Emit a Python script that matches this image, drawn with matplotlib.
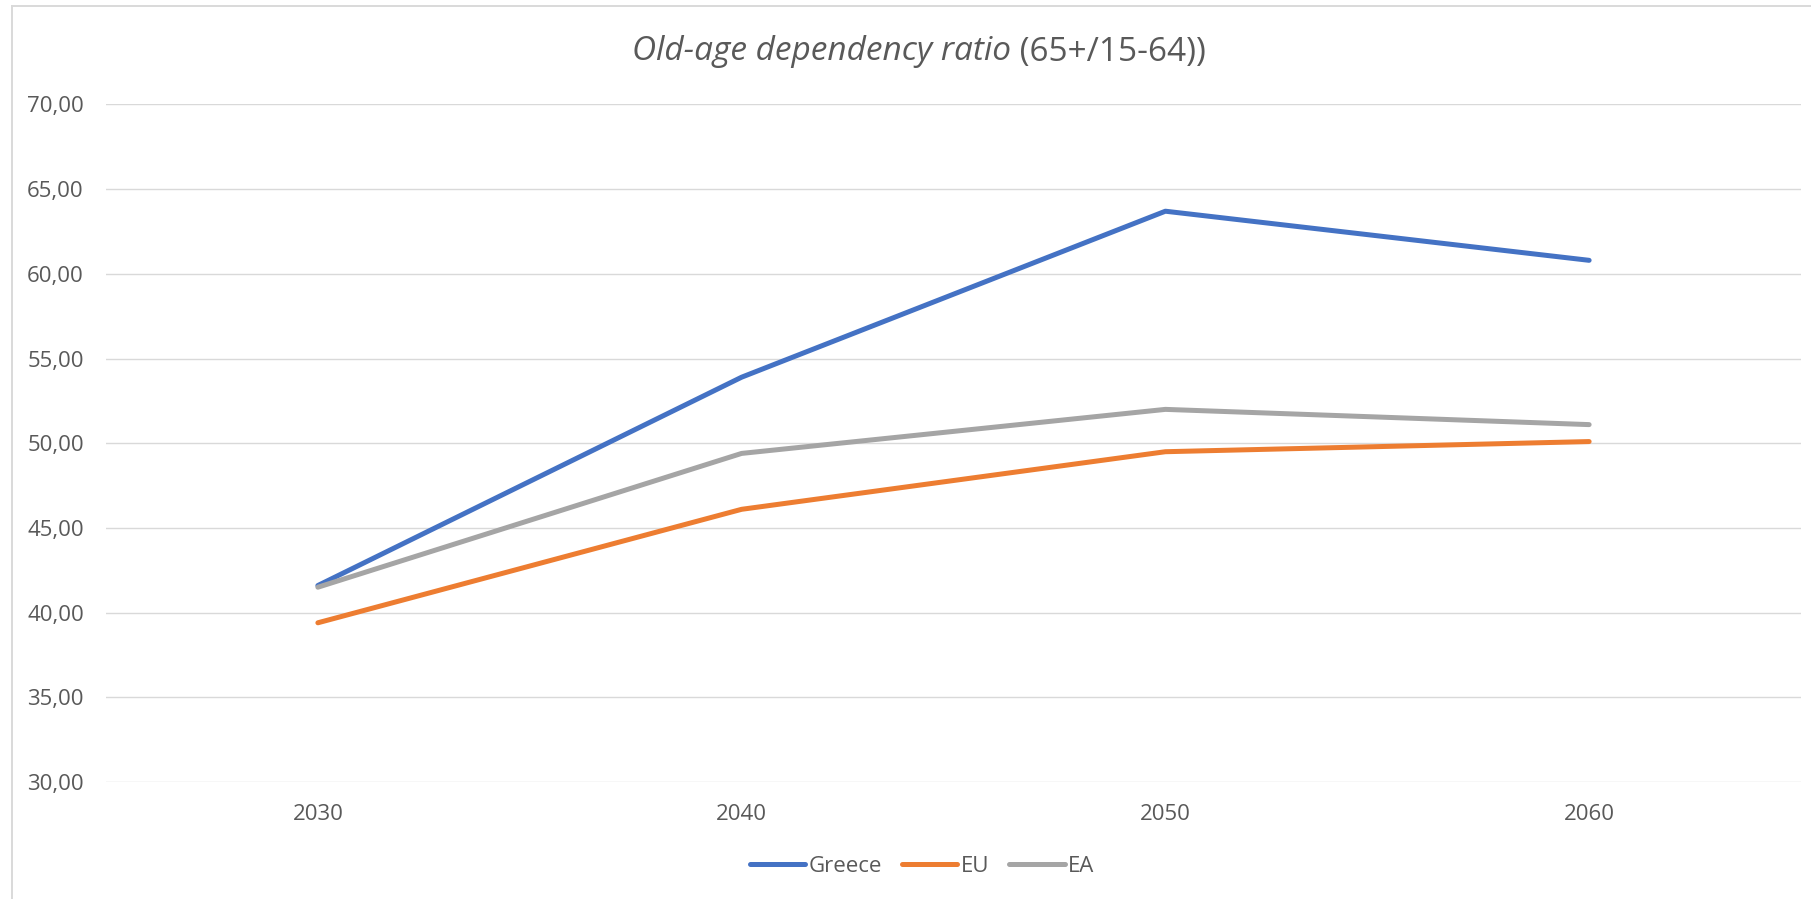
import matplotlib.pyplot as plt
from matplotlib.lines import Line2D
import numpy as np

# Series data
years = ['2030', '2040', '2050', '2060']
greece = [41.6, 53.9, 63.7, 60.8]
eu = [39.4, 46.1, 49.5, 50.1]
ea = [41.5, 49.4, 52.0, 51.1]

yticks = [30, 35, 40, 45, 50, 55, 60, 65, 70]

TEXT = '#595959'
GRID = '#D9D9D9'

plt.rcParams['font.family'] = ['Open Sans', 'DejaVu Sans']

W, H = 1811, 899
fig = plt.figure(figsize=(W / 100, H / 100), dpi=100)
ax = fig.add_axes([106 / W, 1 - 782 / H, (1801 - 106) / W, (782 - 104.5) / H])

x = np.arange(len(years))
lw = 3.6
ax.plot(x, greece, color='#4472C4', lw=lw, solid_capstyle='round', solid_joinstyle='round', label='Greece', zorder=3)
ax.plot(x, eu, color='#ED7D31', lw=lw, solid_capstyle='round', solid_joinstyle='round', label='EU', zorder=3)
ax.plot(x, ea, color='#A5A5A5', lw=lw, solid_capstyle='round', solid_joinstyle='round', label='EA', zorder=3)

ax.set_xlim(-0.5, len(years) - 0.5)
ax.set_ylim(30, 70)
ax.set_xticks(x)
ax.set_xticklabels(years)
ax.set_yticks(yticks)
ax.set_yticklabels([f'{v:.2f}'.replace('.', ',') for v in yticks])
ax.tick_params(length=0, labelsize=16, labelcolor=TEXT)
ax.tick_params(axis='x', pad=16)
ax.tick_params(axis='y', pad=16)
ax.yaxis.grid(True, color=GRID, lw=1.0)
ax.set_axisbelow(True)
for s in ax.spines.values():
    s.set_visible(False)

# chart border (top and left edges)
fig.add_artist(Line2D([11.5 / W, 1], [1 - 5.5 / H, 1 - 5.5 / H], color=GRID, lw=1.4, transform=fig.transFigure))
fig.add_artist(Line2D([11.5 / W, 11.5 / W], [0, 1 - 5.5 / H], color=GRID, lw=1.4, transform=fig.transFigure))

# title: italic part followed by plain part, centred as a whole
renderer = fig.canvas.get_renderer()
ty = 1 - 52 / H
t1 = fig.text(0, ty, 'Old-age dependency ratio', style='italic', fontsize=24, color=TEXT, va='center', ha='left')
t2 = fig.text(0, ty, ' (65+/15-64))', fontsize=24, color=TEXT, va='center', ha='left')
w1 = t1.get_window_extent(renderer).width
w2 = t2.get_window_extent(renderer).width
cx = 919
start = cx - (w1 + w2) / 2
t1.set_x(start / W)
t2.set_x((start + w1) / W)

leg = fig.legend(loc='center', bbox_to_anchor=(922 / W, 1 - 866 / H), ncol=3, frameon=False,
                 fontsize=16, handlelength=2.5, handletextpad=0.15, columnspacing=0.9)
for t in leg.get_texts():
    t.set_color(TEXT)

fig.savefig('out.png', dpi=100, facecolor='white')
